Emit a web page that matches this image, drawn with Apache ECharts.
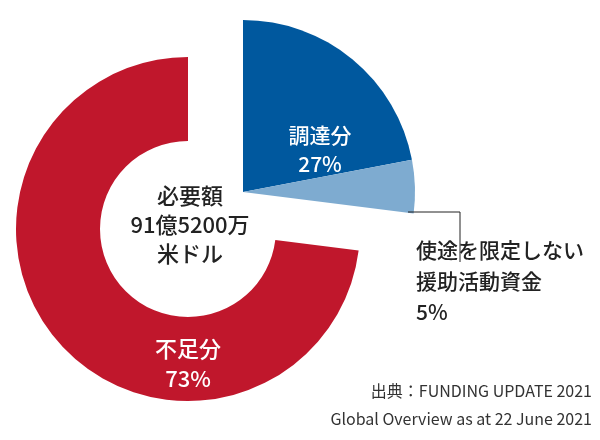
<!DOCTYPE html>
<html><head><meta charset="utf-8">
<script src="https://cdn.jsdelivr.net/npm/echarts@6/dist/echarts.min.js"></script>
<style>html,body{margin:0;background:#fff}#c{width:600px;height:440px}</style>
</head><body><div id="c"></div>
<script>
const categories = ['調達分', '使途を限定しない援助活動資金', '不足分'];
const values = [22, 5, 73];
const labels = ['調達分\n27%', '使途を限定しない\n援助活動資金\n5%', '不足分\n73%'];
const centerText = '必要額\n91億5200万\n米ドル';
const sourceLines = ['出典：FUNDING UPDATE 2021', 'Global Overview as at 22 June 2021'];
const colors = ['#00589E', '#7EABD0', '#C0172C'];
const F = '"Noto Sans CJK JP", "Noto Sans", sans-serif';
const chart = echarts.init(document.getElementById('c'));
chart.setOption({
  animation: false,
  series: [
    {
      type: 'pie', center: [188, 229], radius: [88, 172], startAngle: 90, clockwise: true,
      silent: true, label: {show: false}, labelLine: {show: false},
      data: [
        {name: 'gap', value: values[0] + values[1], itemStyle: {color: 'transparent'}},
        {name: categories[2], value: values[2], itemStyle: {color: colors[2]}}
      ]
    },
    {
      type: 'pie', center: [243, 192], radius: [0, 172], startAngle: 90, clockwise: true,
      silent: true, label: {show: false}, labelLine: {show: false},
      data: [
        {name: categories[0], value: values[0], itemStyle: {color: colors[0]}},
        {name: categories[1], value: values[1], itemStyle: {color: colors[1]}},
        {name: 'rest', value: values[2], itemStyle: {color: 'transparent'}}
      ]
    }
  ],
  graphic: [
    {type: 'text', z: 100, style: {text: labels[0], x: 320, y: 150, align: 'center', verticalAlign: 'middle', fill: '#fff', font: '500 21px ' + F, lineHeight: 29}},
    {type: 'text', z: 100, style: {text: centerText, x: 190, y: 225, align: 'center', verticalAlign: 'middle', fill: '#222', font: '500 22px ' + F, lineHeight: 29}},
    {type: 'text', z: 100, style: {text: labels[2], x: 188, y: 364, align: 'center', verticalAlign: 'middle', fill: '#fff', font: '500 22px ' + F, lineHeight: 30}},
    {type: 'text', z: 100, style: {text: labels[1], x: 416, y: 281, align: 'left', verticalAlign: 'middle', fill: '#222', font: '500 21px ' + F, lineHeight: 31}},
    {type: 'polyline', z: 100, shape: {points: [[408, 212], [460, 212], [460, 262]]}, style: {stroke: '#222', lineWidth: 1, fill: null}},
    {type: 'text', z: 100, style: {text: sourceLines[0], x: 592, y: 391, align: 'right', verticalAlign: 'middle', fill: '#333', font: '16px ' + F}},
    {type: 'text', z: 100, style: {text: sourceLines[1], x: 592, y: 419, align: 'right', verticalAlign: 'middle', fill: '#333', font: '16px ' + F}}
  ]
});
</script></body></html>
